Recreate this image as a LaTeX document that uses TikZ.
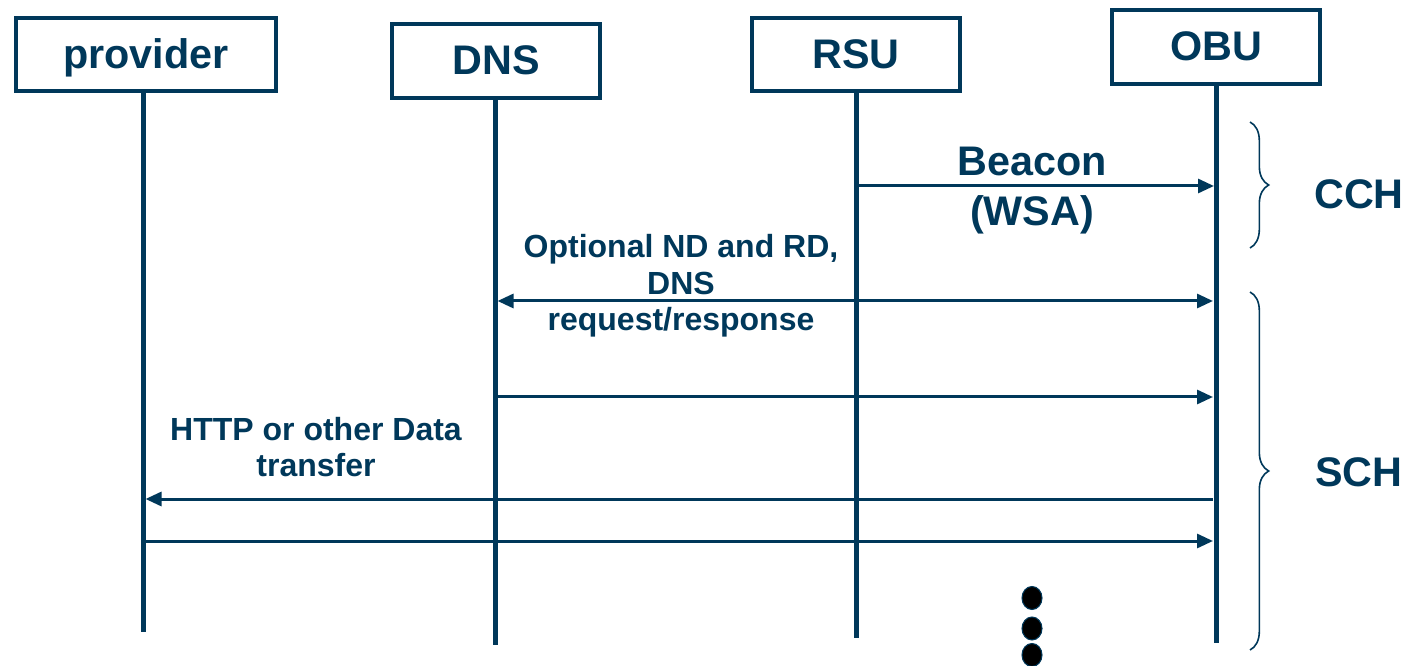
\documentclass[tikz,border=0pt]{standalone}
\usepackage{fontspec}
\setmainfont{Liberation Sans}
\usetikzlibrary{arrows.meta,decorations.pathreplacing}
\definecolor{navy}{RGB}{0,56,90}
\begin{document}
\begin{tikzpicture}[x=0.75pt,y=-0.75pt,
  actor/.style={draw=navy,line width=3pt,fill=white,text=navy,
    font=\fontsize{31}{37}\selectfont\bfseries,inner sep=0pt,
    text height=21pt,text depth=0pt},
  life/.style={draw=navy,line width=3.75pt},
  msg/.style={draw=navy,line width=2.25pt,>={Triangle[length=12pt,width=10.5pt]}},
  lbl/.style={text=navy,align=center,anchor=base,inner sep=0pt},
  biglbl/.style={lbl,font=\fontsize{31}{37.5}\selectfont\bfseries},
  smalllbl/.style={lbl,font=\fontsize{24}{27.6}\selectfont\bfseries},
  chan/.style={draw=navy,line width=1.2pt,decorate,decoration={brace,amplitude=14pt}},
  dot/.style={draw=navy,line width=0.8pt,fill=black}
]
\useasboundingbox (0,0) rectangle (1414,666);

% participants
\node[actor,minimum width=195pt,minimum height=54.75pt] (prov) at (146,54.5) {provider};
\node[actor,minimum width=156pt,minimum height=55.5pt] (dns) at (496,61) {DNS};
\node[actor,minimum width=156pt,minimum height=54.75pt] (rsu) at (856,54.5) {RSU};
\node[actor,minimum width=156pt,minimum height=55.5pt] (obu) at (1216,47) {OBU};

% lifeline ends
\coordinate (provEnd) at (143,632);
\coordinate (dnsEnd) at (495,645);
\coordinate (rsuEnd) at (856,638);
\coordinate (obuEnd) at (1216,643);

\draw[life] (prov.south -| provEnd) -- (provEnd);
\draw[life] (dns.south -| dnsEnd) -- (dnsEnd);
\draw[life] (rsu.south -| rsuEnd) -- (rsuEnd);
\draw[life] (obu.south -| obuEnd) -- (obuEnd);

% message end points on the lifelines
\coordinate (m1a) at (856,186);   \coordinate (m1b) at (1214,186);
\coordinate (m2a) at (497.5,301); \coordinate (m2b) at (1213,301);
\coordinate (m3a) at (497,397);   \coordinate (m3b) at (1213,397);
\coordinate (m4a) at (1213,499);  \coordinate (m4b) at (145.5,499);
\coordinate (m5a) at (143,541);   \coordinate (m5b) at (1213,541);

\draw[msg,->] (m1a) -- (m1b);
\draw[msg,<->] (m2a) -- (m2b);
\draw[msg,->] (m3a) -- (m3b);
\draw[msg,->] (m4a) -- (m4b);
\draw[msg,->] (m5a) -- (m5b);

% message labels (anchored on the baseline of the last line)
\node[biglbl] (beacon) at (1032,226) {Beacon\\(WSA)};
\node[smalllbl] (ndrd) at (681,331) {Optional ND and RD,\\DNS\\request/response};
\node[smalllbl] (http) at (316,477) {HTTP or other Data\\transfer};

% channel braces
\coordinate (cchTop) at (1250,122); \coordinate (cchBot) at (1250,248);
\coordinate (schTop) at (1250,292); \coordinate (schBot) at (1250,650);
\draw[chan] (cchTop) -- (cchBot);
\draw[chan] (schTop) -- (schBot);
\node[biglbl] (cch) at (1359,209) {CCH};
\node[biglbl] (sch) at (1359,487) {SCH};

% continuation dots
\draw[dot] (1032,598) ellipse [x radius=10, y radius=11.5];
\draw[dot] (1032,628.5) ellipse [x radius=10, y radius=11.5];
\draw[dot] (1032,655) ellipse [x radius=10, y radius=11.5];
\end{tikzpicture}
\end{document}
